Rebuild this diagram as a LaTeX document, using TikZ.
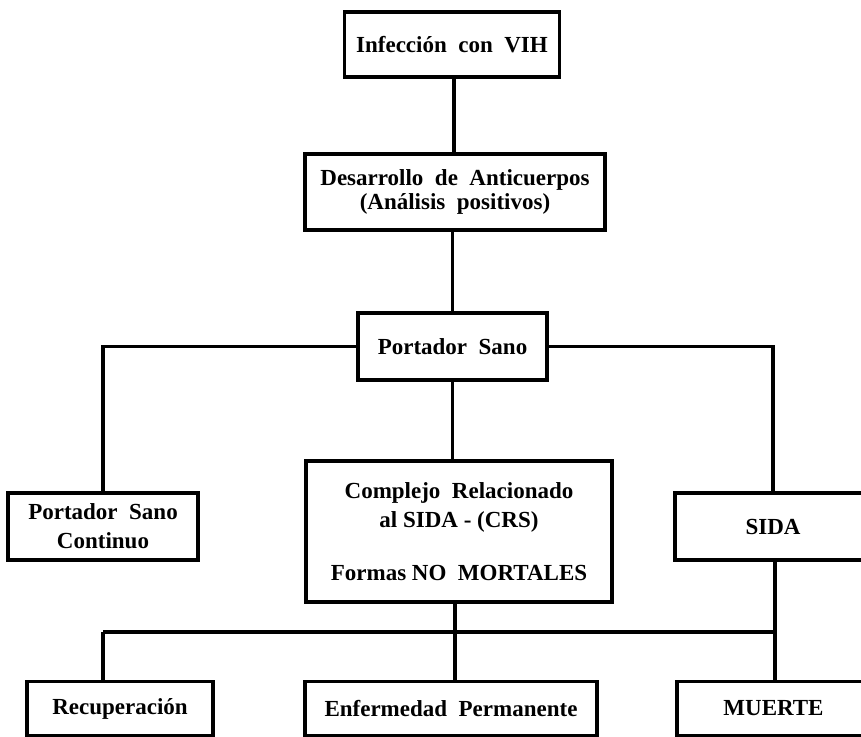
\documentclass[tikz,border=0pt]{standalone}
\usepackage{fontspec}
\setmainfont{Liberation Serif}
\begin{document}
\begin{tikzpicture}[x=1pt,y=-1pt,
  box/.style={draw=black,line width=3.2pt,rectangle,inner sep=0pt,align=center,
    font=\bfseries\fontsize{23}{29}\selectfont},
  link/.style={line width=3.8pt}]
\useasboundingbox[fill=white] (0,0) rectangle (861,736);
\begin{scope}
\clip (0,0) rectangle (861,736);
\node[box,minimum width=215pt,minimum height=65pt] (inf) at (452,44.5) {Infección\ \ con\ \ VIH};
\node[box,minimum width=300pt,minimum height=76pt,font=\bfseries\fontsize{23}{24}\selectfont] (des) at (455,192) {Desarrollo\ \ de\ \ Anticuerpos\\(Análisis\ \ positivos)};
\node[box,minimum width=189pt,minimum height=67pt] (ps) at (452.5,346.5) {Portador\ \ Sano};
\node[box,minimum width=190pt,minimum height=67pt] (psc) at (103,526.5) {Portador\ \ Sano\\Continuo};
\node[box,minimum width=306pt,minimum height=141pt] (crs) at (459,531.5) {Complejo\ \ Relacionado\\al SIDA - (CRS)\\[24pt]Formas NO\ \ MORTALES};
\node[box,minimum width=196pt,minimum height=67pt] (sida) at (773,526.5) {SIDA};
\node[box,minimum width=186pt,minimum height=54pt] (rec) at (120,708.5) {Recuperación};
\node[box,minimum width=292pt,minimum height=54pt] (enf) at (451,708.5) {Enfermedad\ \ Permanente};
\node[box,minimum width=193pt,minimum height=54pt] (mue) at (773.5,708.5) {MUERTE};
\coordinate (busL) at (103,632);
\coordinate (busM) at (455,632);
\coordinate (busR) at (775,632);
\draw[link] (inf.south -| 454,0) -- (des.north -| 454,0);
\draw[link] (des.south -| ps.north) -- (ps.north);
\draw[link] (ps.west) -| (psc.north);
\draw[link] (ps.east) -| (sida.north);
\draw[link] (ps.south) -- (ps.south |- crs.north);
\draw[link] (crs.south -| busM) -- (busM);
\draw[link] (sida.south -| busR) -- (busR);
\draw[link] (busL) -- (busR);
\draw[link] (busL) -- (busL |- rec.north);
\draw[link] (busM) -- (busM |- enf.north);
\draw[link] (busR) -- (busR |- mue.north);
\end{scope}
\end{tikzpicture}
\end{document}
